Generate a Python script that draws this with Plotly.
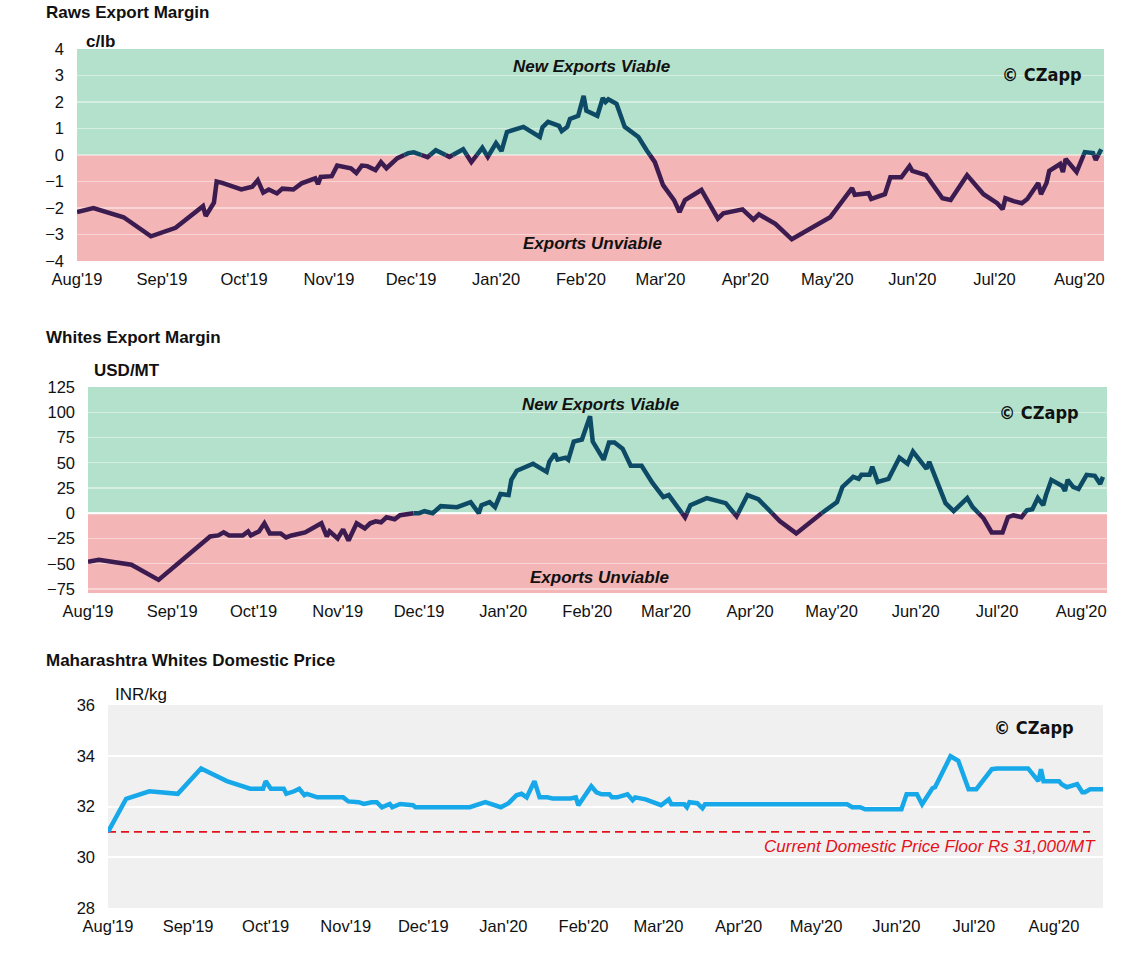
import numpy as np
import pandas as pd
import plotly.graph_objects as go

# ---------------- data ----------------
raws_dates = ["2019-08-01","2019-08-07","2019-08-18","2019-08-28","2019-09-06","2019-09-16","2019-09-17","2019-09-20",
              "2019-09-21","2019-09-23","2019-09-30","2019-10-04","2019-10-06","2019-10-08","2019-10-10","2019-10-13",
              "2019-10-15","2019-10-19","2019-10-22","2019-10-26","2019-10-27","2019-10-28","2019-10-29","2019-11-02",
              "2019-11-04","2019-11-09","2019-11-11","2019-11-13","2019-11-15","2019-11-18","2019-11-20","2019-11-22",
              "2019-11-26","2019-11-30","2019-12-02","2019-12-07","2019-12-10","2019-12-15","2019-12-20","2019-12-23",
              "2019-12-27","2019-12-29","2020-01-01","2020-01-03","2020-01-05","2020-01-11","2020-01-17","2020-01-18",
              "2020-01-20","2020-01-24","2020-01-25","2020-01-27","2020-01-28","2020-01-31","2020-02-02","2020-02-03",
              "2020-02-07","2020-02-09","2020-02-10","2020-02-11","2020-02-14","2020-02-17","2020-02-22","2020-02-25",
              "2020-02-28","2020-03-02","2020-03-06","2020-03-08","2020-03-10","2020-03-16","2020-03-22","2020-03-24",
              "2020-03-31","2020-04-04","2020-04-06","2020-04-12","2020-04-18","2020-05-02","2020-05-04","2020-05-10",
              "2020-05-11","2020-05-16","2020-05-17","2020-05-22","2020-05-24","2020-05-28","2020-05-31","2020-06-01",
              "2020-06-06","2020-06-12","2020-06-15","2020-06-21","2020-06-27","2020-07-02","2020-07-04","2020-07-05",
              "2020-07-08","2020-07-11","2020-07-13","2020-07-17","2020-07-18","2020-07-20","2020-07-21","2020-07-25",
              "2020-07-26","2020-07-27","2020-07-31","2020-08-03","2020-08-06","2020-08-07","2020-08-09"]
raws_values = [-2.15,-2.0,-2.35,-3.07,-2.75,-1.93,-2.3,-1.8,
               -1.0,-1.05,-1.3,-1.2,-0.95,-1.42,-1.3,-1.45,
               -1.27,-1.3,-1.07,-0.95,-0.88,-1.1,-0.83,-0.8,
               -0.4,-0.5,-0.68,-0.4,-0.42,-0.57,-0.27,-0.5,
               -0.12,0.07,0.1,-0.08,0.18,-0.07,0.22,-0.27,
               0.27,-0.07,0.45,0.15,0.87,1.06,0.68,1.05,
               1.25,1.1,0.9,1.06,1.36,1.48,2.23,1.67,
               1.48,2.15,2.0,2.1,1.93,1.06,0.68,0.18,
               -0.27,-1.14,-1.7,-2.15,-1.7,-1.32,-2.4,-2.2,
               -2.05,-2.44,-2.24,-2.6,-3.18,-2.35,-2.08,-1.25,
               -1.5,-1.44,-1.66,-1.48,-0.84,-0.84,-0.42,-0.6,
               -0.76,-1.63,-1.7,-0.76,-1.48,-1.82,-2.05,-1.63,
               -1.74,-1.82,-1.66,-1.06,-1.48,-1.06,-0.6,-0.34,
               -0.64,-0.15,-0.64,0.11,0.07,-0.19,0.22]

whites_dates = ["2019-08-01","2019-08-05","2019-08-17","2019-08-27","2019-09-15","2019-09-18","2019-09-20","2019-09-22",
                "2019-09-27","2019-09-29","2019-09-30","2019-10-03","2019-10-05","2019-10-07","2019-10-11","2019-10-13",
                "2019-10-15","2019-10-19","2019-10-20","2019-10-26","2019-10-28","2019-10-29","2019-11-01","2019-11-03",
                "2019-11-05","2019-11-08","2019-11-11","2019-11-13","2019-11-15","2019-11-17","2019-11-19","2019-11-22",
                "2019-11-24","2019-11-29","2019-12-01","2019-12-03","2019-12-06","2019-12-09","2019-12-15","2019-12-20",
                "2019-12-23","2019-12-24","2019-12-27","2019-12-29","2019-12-31","2020-01-03","2020-01-04","2020-01-06",
                "2020-01-12","2020-01-17","2020-01-18","2020-01-20","2020-01-21","2020-01-24","2020-01-25","2020-01-27",
                "2020-01-30","2020-02-02","2020-02-03","2020-02-07","2020-02-09","2020-02-11","2020-02-14","2020-02-17",
                "2020-02-21","2020-02-25","2020-02-29","2020-03-02","2020-03-08","2020-03-10","2020-03-16","2020-03-23",
                "2020-03-27","2020-03-31","2020-04-04","2020-04-12","2020-04-18","2020-05-02","2020-05-03","2020-05-05",
                "2020-05-09","2020-05-11","2020-05-12","2020-05-15","2020-05-16","2020-05-18","2020-05-22","2020-05-26",
                "2020-05-29","2020-05-31","2020-06-03","2020-06-05","2020-06-06","2020-06-12","2020-06-15","2020-06-20",
                "2020-06-22","2020-06-26","2020-06-29","2020-07-03","2020-07-05","2020-07-07","2020-07-10","2020-07-12",
                "2020-07-14","2020-07-16","2020-07-18","2020-07-19","2020-07-21","2020-07-25","2020-07-26","2020-07-27",
                "2020-07-29","2020-07-31","2020-08-03","2020-08-06","2020-08-08","2020-08-09"]
whites_values = [-48,-46,-51,-66,-23,-22,-19,-22,
                 -22,-18,-22,-18,-10,-20,-20,-24,
                 -22,-20,-19,-10,-23,-18,-25,-16,
                 -27,-10,-15,-10,-8,-9,-4,-6,
                 -2,0,0,2,0,7,6,11,
                 0,8,11,6,19,18,33,42,
                 49,41,51,59,53,55,53,71,
                 73,96,71,53,70,70,64,47,
                 47,30,16,18,-4,8,15,10,
                 -3,18,14,-8,-20,10,11,26,
                 36,34,38,38,46,31,34,55,
                 49,61,50,44,51,10,2,15,
                 6,-5,-19,-19,-4,-2,-4,3,
                 4,15,8,18,33,27,22,33,
                 26,24,38,37,29,36]

dom_dates = ["2019-08-01","2019-08-08","2019-08-17","2019-08-28","2019-09-06","2019-09-16","2019-09-25","2019-09-30",
             "2019-10-01","2019-10-03","2019-10-08","2019-10-09","2019-10-12","2019-10-14","2019-10-16","2019-10-17",
             "2019-10-21","2019-10-31","2019-11-02","2019-11-06","2019-11-08","2019-11-11","2019-11-13","2019-11-15",
             "2019-11-18","2019-11-19","2019-11-22","2019-11-27","2019-11-28","2019-12-19","2019-12-25","2019-12-31",
             "2020-01-03","2020-01-06","2020-01-08","2020-01-10","2020-01-13","2020-01-15","2020-01-18","2020-01-20",
             "2020-01-27","2020-01-29","2020-01-30","2020-02-04","2020-02-06","2020-02-08","2020-02-11","2020-02-12",
             "2020-02-14","2020-02-18","2020-02-20","2020-02-21","2020-02-25","2020-03-02","2020-03-05","2020-03-06",
             "2020-03-11","2020-03-12","2020-03-13","2020-03-16","2020-03-18","2020-03-19","2020-05-13","2020-05-15",
             "2020-05-18","2020-05-20","2020-06-03","2020-06-05","2020-06-09","2020-06-11","2020-06-15","2020-06-16",
             "2020-06-22","2020-06-25","2020-06-29","2020-07-02","2020-07-08","2020-07-10","2020-07-22","2020-07-26",
             "2020-07-27","2020-07-28","2020-08-03","2020-08-04","2020-08-06","2020-08-10","2020-08-12","2020-08-13",
             "2020-08-15","2020-08-20"]
dom_values = [31.0,32.3,32.6,32.5,33.5,33.0,32.7,32.7,
              33.0,32.7,32.7,32.5,32.6,32.7,32.45,32.5,
              32.36,32.36,32.2,32.17,32.1,32.17,32.17,31.97,
              32.1,31.97,32.1,32.05,31.97,31.97,32.17,31.97,
              32.13,32.44,32.5,32.36,33.0,32.36,32.36,32.32,
              32.32,32.36,32.05,32.8,32.56,32.48,32.48,32.36,
              32.36,32.48,32.25,32.36,32.28,32.05,32.28,32.09,
              32.09,31.97,32.17,32.13,31.93,32.09,32.09,31.97,
              31.97,31.89,31.89,32.48,32.48,32.09,32.72,32.76,
              33.98,33.8,32.68,32.68,33.47,33.5,33.5,33.0,
              33.47,33.0,33.0,32.88,32.76,32.88,32.56,32.56,
              32.68,32.68]

floor_value = 31.0
floor_dates = ["2019-08-01", "2020-08-15"]
floor_label = "Current Domestic Price Floor Rs 31,000/MT"

month_ticks = pd.date_range("2019-08-01", "2020-08-01", freq="MS")
month_labels = [d.strftime("%b'%y") for d in month_ticks]

# ---------------- style ----------------
W, H = 1145, 975
FONT = "Liberation Sans, Arial, sans-serif"
NARROW = "DejaVu Sans Condensed, Liberation Sans Narrow, Arial Narrow, sans-serif"
GREEN = "#b4e1cb"
RED = "#f3b5b5"
POS_COL = "#0d4a66"
NEG_COL = "#3c1b50"
BLUE = "#16a8e8"
FLOOR_RED = "#e3121b"


def split_sign(dates, vals, thr=0.0):
    t = list(pd.to_datetime(pd.Series(dates)))
    v = list(vals)
    out = {True: ([], []), False: ([], [])}
    cur = None
    for i in range(1, len(v)):
        a, b = v[i - 1], v[i]
        ta, tb = t[i - 1], t[i]
        if (a - thr) * (b - thr) < 0:
            f = (thr - a) / (b - a)
            tc = ta + (tb - ta) * f
            pieces = [(ta, a, tc, thr), (tc, thr, tb, b)]
        else:
            pieces = [(ta, a, tb, b)]
        for (x0, y0, x1, y1) in pieces:
            key = (y0 + y1) / 2 >= thr
            xs, ys = out[key]
            if key != cur:
                if xs:
                    xs.append(None)
                    ys.append(None)
                xs += [x0.isoformat(), x1.isoformat()]
                ys += [y0, y1]
            else:
                xs.append(x1.isoformat())
                ys.append(y1)
            cur = key
    return out[True], out[False]


fig = go.Figure()

for (d, v, xa, ya) in [(raws_dates, raws_values, "x", "y"), (whites_dates, whites_values, "x2", "y2")]:
    pos, neg = split_sign(d, v)
    fig.add_trace(go.Scatter(x=neg[0], y=neg[1], mode="lines", xaxis=xa, yaxis=ya,
                             line=dict(color=NEG_COL, width=4.5), hoverinfo="skip", showlegend=False))
    fig.add_trace(go.Scatter(x=pos[0], y=pos[1], mode="lines", xaxis=xa, yaxis=ya,
                             line=dict(color=POS_COL, width=4.5), hoverinfo="skip", showlegend=False))

fig.add_trace(go.Scatter(x=floor_dates, y=[floor_value] * len(floor_dates), mode="lines", xaxis="x3", yaxis="y3",
                         line=dict(color=FLOOR_RED, width=1.8, dash="8px,5px"), hoverinfo="skip", showlegend=False))
fig.add_trace(go.Scatter(x=dom_dates, y=dom_values, mode="lines", xaxis="x3", yaxis="y3",
                         line=dict(color=BLUE, width=4.5), hoverinfo="skip", showlegend=False))


def px_dom_x(a, b):
    return [a / W, b / W]


def px_dom_y(top, bottom):
    return [1 - bottom / H, 1 - top / H]


tickfont = dict(family=FONT, size=16.5, color="#111")
xcommon = dict(type="date", tickvals=list(month_ticks), ticktext=month_labels, showgrid=False, automargin=False,
               zeroline=False, showline=False, ticks="", tickfont=tickfont, ticklabelstandoff=6)
ycommon = dict(zeroline=False, showline=False, ticks="", tickfont=tickfont, ticklabelstandoff=12, automargin=False)

fig.update_layout(
    width=W, height=H, margin=dict(l=0, r=0, t=0, b=0),
    paper_bgcolor="white", plot_bgcolor="#f0f0f0", showlegend=False,
    font=dict(family=FONT, color="#111"),
    xaxis=dict(xcommon, domain=px_dom_x(77, 1104), anchor="y", range=["2019-08-01", "2020-08-10"]),
    yaxis=dict(ycommon, domain=px_dom_y(49, 261), anchor="x", range=[-4, 4], dtick=1,
               gridcolor="rgba(255,255,255,0.45)", gridwidth=1.5),
    xaxis2=dict(xcommon, domain=px_dom_x(88, 1107), anchor="y2", range=["2019-08-01", "2020-08-10 12:00"]),
    yaxis2=dict(ycommon, domain=px_dom_y(387, 593), anchor="x2", range=[-79, 125], tickvals=list(range(-75, 126, 25)),
                gridcolor="rgba(255,255,255,0.45)", gridwidth=1.5),
    xaxis3=dict(xcommon, domain=px_dom_x(108, 1103), anchor="y3", range=["2019-08-01", "2020-08-20"]),
    yaxis3=dict(ycommon, domain=px_dom_y(705, 908), anchor="x3", range=[28, 36], dtick=2,
                gridcolor="white", gridwidth=2),
)

shapes = []
for (xr, yr, lo, hi) in [("x", "y", -4, 4), ("x2", "y2", -79, 125)]:
    shapes.append(dict(type="rect", xref=xr + " domain", yref=yr, x0=0, x1=1, y0=0, y1=hi,
                       fillcolor=GREEN, line=dict(width=0), layer="below"))
    shapes.append(dict(type="rect", xref=xr + " domain", yref=yr, x0=0, x1=1, y0=lo, y1=0,
                       fillcolor=RED, line=dict(width=0), layer="below"))
shapes.append(dict(type="line", xref="x2 domain", yref="y2", x0=0, x1=1, y0=0, y1=0,
                   line=dict(color="white", width=2), layer="below"))
fig.update_layout(shapes=shapes)


def ann(text, x, y, xanchor="left", size=17, bold=False, italic=False, color="#111", family=FONT):
    t = text
    if bold:
        t = "<b>" + t + "</b>"
    if italic:
        t = "<i>" + t + "</i>"
    fig.add_annotation(text=t, x=x / W, y=1 - y / H, xref="paper", yref="paper", xanchor=xanchor,
                       yanchor="middle", showarrow=False, font=dict(family=family, size=size, color=color))


ann("Raws Export Margin", 44, 12, bold=True)
ann("c/lb", 84, 41, bold=True)
ann("New Exports Viable", 591, 67, xanchor="center", bold=True, italic=True)
ann("Exports Unviable", 592, 244, xanchor="center", bold=True, italic=True)
ann("© CZapp", 1042, 75, xanchor="center", size=18, bold=True, family=NARROW)

ann("Whites Export Margin", 44, 337, bold=True)
ann("USD/MT", 92, 370, bold=True)
ann("New Exports Viable", 600, 404, xanchor="center", bold=True, italic=True)
ann("Exports Unviable", 599, 577, xanchor="center", bold=True, italic=True)
ann("© CZapp", 1039, 413, xanchor="center", size=18, bold=True, family=NARROW)

ann("Maharashtra Whites Domestic Price", 44, 660, bold=True)
ann("INR/kg", 113, 694)
ann("© CZapp", 1034, 727, xanchor="center", size=18, bold=True, family=NARROW)
ann(floor_label, 1098, 846, xanchor="right", italic=True, color=FLOOR_RED)

fig.write_html("out.html", config={"displayModeBar": False, "staticPlot": True},
               post_script="document.body.style.margin='0';document.body.style.overflow='hidden';")
